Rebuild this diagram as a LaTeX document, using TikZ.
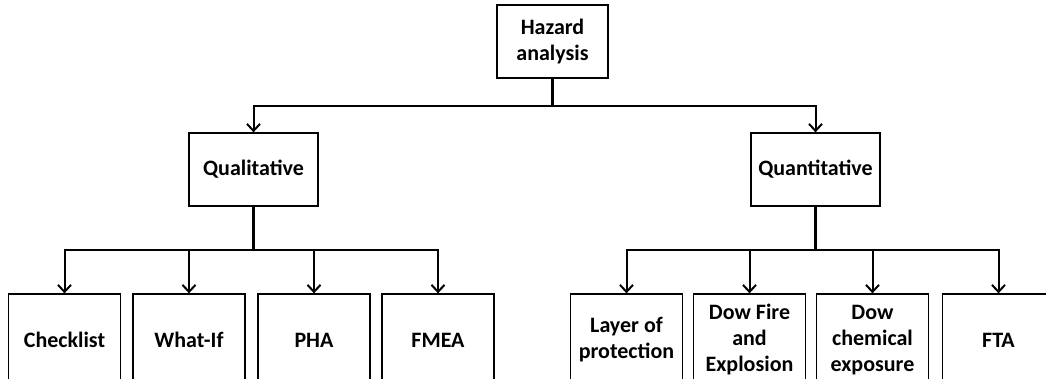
\documentclass[tikz,border=0pt]{standalone}
\usepackage{fontspec}
\setmainfont{Carlito}
\usetikzlibrary{arrows.meta}
\begin{document}
\begin{tikzpicture}[x=1pt,y=1pt,
  box/.style={draw=black,line width=1.3pt,fill=white,align=center,inner sep=0pt,
    font=\fontsize{22}{26}\selectfont\bfseries},
  topbox/.style={box,minimum width=111pt,minimum height=73pt},
  midbox/.style={box,minimum width=129pt,minimum height=73pt},
  leafbox/.style={box,minimum width=112pt,minimum height=92pt},
  conn/.style={line width=2.6pt},
  arr/.style={line width=2pt,-{Straight Barb[length=7pt,width=13pt,line width=2pt]}}]
\clip (0,0) rectangle (1046,-379);
\fill[white] (0,0) rectangle (1046,-379);
\node[topbox] (haz) at (552.5,-41.5) {Hazard\\analysis};
\node[midbox] (qual) at (253.5,-169.5) {Qualitative};
\node[midbox] (quan) at (815.5,-169.5) {Quantitative};
\node[leafbox] (chk) at (64.5,-340) {Checklist};
\node[leafbox] (wif) at (189,-340) {What-If};
\node[leafbox] (pha) at (314,-340) {PHA};
\node[leafbox] (fmea) at (438,-340) {FMEA};
\node[leafbox] (lop) at (626.5,-340) {Layer of\\protection};
\node[leafbox] (dfe) at (749.5,-340) {Dow Fire\\and\\Explosion};
\node[leafbox] (dce) at (872.5,-340) {Dow\\chemical\\exposure};
\node[leafbox] (fta) at (998.5,-340) {FTA};
\coordinate (j1) at (552.5,-106);
\coordinate (j2) at (253.5,-250);
\coordinate (j3) at (815.5,-250);
\draw[conn] (haz.south) -- (j1);
\draw[conn] (qual.south) -- (j2);
\draw[conn] (quan.south) -- (j3);
\draw[arr] (j1) -| (qual.north);
\draw[arr] (j1) -| (quan.north);
\draw[arr] (j2) -| (chk.north);
\draw[arr] (j2) -| (wif.north);
\draw[arr] (j2) -| (pha.north);
\draw[arr] (j2) -| (fmea.north);
\draw[arr] (j3) -| (lop.north);
\draw[arr] (j3) -| (dfe.north);
\draw[arr] (j3) -| (dce.north);
\draw[arr] (j3) -| (fta.north);
\end{tikzpicture}
\end{document}
